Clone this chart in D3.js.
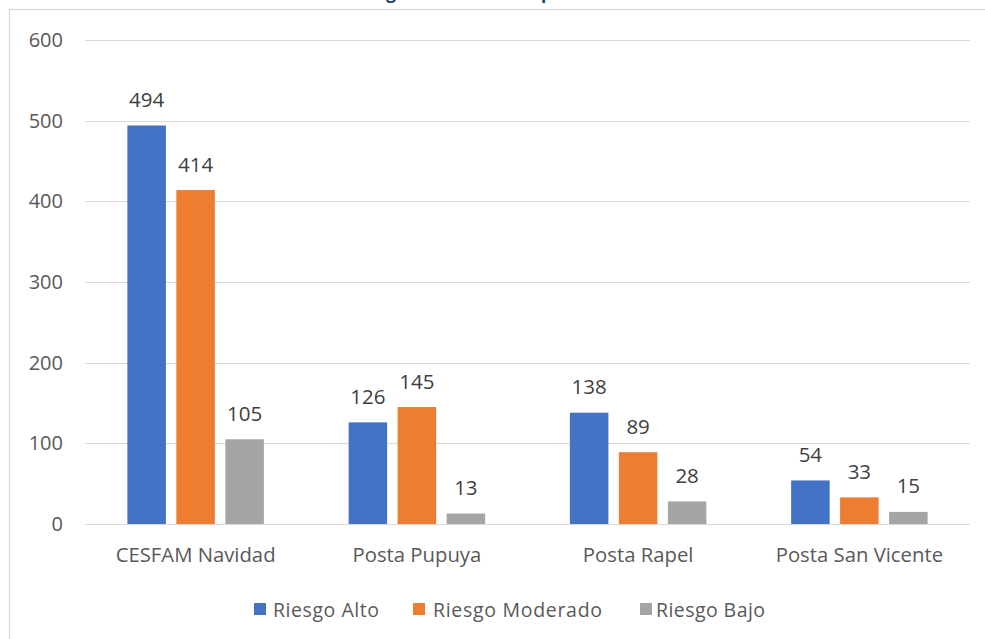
<!DOCTYPE html>
<html><head><meta charset="utf-8">
<script src="https://cdn.jsdelivr.net/npm/d3@7"></script>
<style>body{margin:0;background:#fff}svg{display:block}</style>
</head><body>
<script>
const title = "Riesgo cardiovascular por establecimiento";
const categories = ["CESFAM Navidad", "Posta Pupuya", "Posta Rapel", "Posta San Vicente"];
const seriesNames = ["Riesgo Alto", "Riesgo Moderado", "Riesgo Bajo"];
const riesgoAlto = [494, 126, 138, 54];
const riesgoModerado = [414, 145, 89, 33];
const riesgoBajo = [105, 13, 28, 15];
const yTicks = [0, 100, 200, 300, 400, 500, 600];
const colors = ["#4472C4", "#ED7D31", "#A5A5A5"];

const W = 985, H = 639;
const font = "'Open Sans', sans-serif";
const svg = d3.select("body").append("svg").attr("width", W).attr("height", H);
svg.append("rect").attr("width", W).attr("height", H).attr("fill", "#fff");

// title (cropped at the top in the reference: only descenders are visible)
const tt = svg.append("text").attr("y", -1)
  .attr("font-family", font).attr("font-weight", "bold").attr("font-size", 18)
  .attr("fill", "#1F3864").text(title);
{
  const node = tt.node();
  const gi = title.indexOf("g"), pi = title.indexOf(" p") + 1;
  const gExt = node.getExtentOfChar(gi), pExt = node.getExtentOfChar(pi);
  const gC = gExt.x + gExt.width / 2;
  const dist = pExt.x - gC;
  const fs = 18 * 150 / dist;
  tt.attr("font-size", fs);
  const g2 = node.getExtentOfChar(gi);
  tt.attr("x", 391 - (g2.x + g2.width / 2));
}

// outer border
svg.append("rect").attr("x", 9.5).attr("y", 9.5).attr("width", 1000).attr("height", 700)
  .attr("fill", "none").attr("stroke", "#D9D9D9").attr("stroke-width", 1.3);

const x0 = d3.scaleBand().domain(categories).range([85, 970]);
const groupW = 136.5;
const x1 = d3.scaleBand().domain(seriesNames).range([0, groupW]).paddingInner(0.214).paddingOuter(0);
const y = d3.scaleLinear().domain([0, 600]).range([524, 40]);

// gridlines
svg.append("g").selectAll("line").data(yTicks).join("line")
  .attr("x1", 85).attr("x2", 970)
  .attr("y1", d => Math.round(y(d)) + 0.5).attr("y2", d => Math.round(y(d)) + 0.5)
  .attr("stroke", "#D9D9D9").attr("stroke-width", 1.2);

// y axis
const yAxis = svg.append("g").attr("transform", "translate(63,0)")
  .call(d3.axisLeft(y).tickValues(yTicks).tickSize(0).tickPadding(0));
yAxis.select(".domain").remove();
yAxis.selectAll("text").attr("font-family", font).attr("font-size", 20).attr("fill", "#595959");

// x axis labels
const xAxis = svg.append("g").attr("transform", "translate(0,0)")
  .call(d3.axisBottom(x0).tickSize(0).tickPadding(0));
xAxis.select(".domain").remove();
xAxis.selectAll("text").attr("y", 562).attr("dy", 0)
  .attr("font-family", font).attr("font-size", 20.3).attr("fill", "#595959");

const series = [riesgoAlto, riesgoModerado, riesgoBajo];
const barX = (i, si) => x0(categories[i]) + x0.bandwidth() / 2 - groupW / 2 + x1(seriesNames[si]);
series.forEach((vals, si) => {
  const g = svg.append("g");
  g.selectAll("rect").data(vals).join("rect")
    .attr("x", (d, i) => barX(i, si))
    .attr("width", x1.bandwidth())
    .attr("y", d => y(d)).attr("height", d => y(0) - y(d))
    .attr("fill", colors[si]);
  g.selectAll("text").data(vals).join("text")
    .attr("x", (d, i) => barX(i, si) + x1.bandwidth() / 2)
    .attr("y", d => y(d) - 18.5)
    .attr("text-anchor", "middle")
    .attr("font-family", font).attr("font-size", 20.5).attr("fill", "#404040")
    .text(d => d);
});

// legend
const legendSq = [254, 413, 640];
const legendTx = [273, 433, 656];
const legendLen = [106, 169, 109];
const lg = svg.append("g");
seriesNames.forEach((s, i) => {
  lg.append("rect").attr("x", legendSq[i]).attr("y", 603).attr("width", 12).attr("height", 12).attr("fill", colors[i]);
  lg.append("text").attr("x", legendTx[i]).attr("y", 617)
    .attr("textLength", legendLen[i]).attr("lengthAdjust", "spacing")
    .attr("font-family", font).attr("font-size", 19.5).attr("fill", "#595959").text(s);
});
</script>
</body></html>
